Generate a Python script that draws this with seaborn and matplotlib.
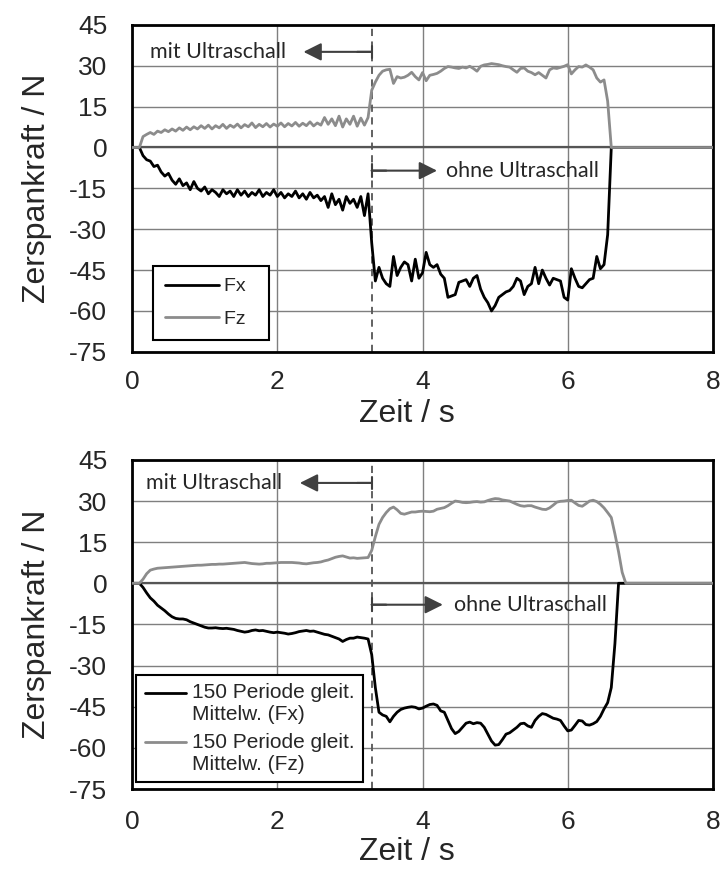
"""
Zerspankraft mit / ohne Ultraschall: Rohsignal und gleitender Mittelwert.
"""

import numpy as np
import pandas as pd
import matplotlib
matplotlib.use("Agg")
import matplotlib.pyplot as plt
from matplotlib.legend_handler import HandlerLine2D
import seaborn as sns

# Abtastzeitpunkte in s (Ablesung alle 0,05 s)
zeit = np.round(np.arange(0, 8.0001, 0.05), 2)

# Rohsignal (oben)
fx_roh = [
    0, 0, 0, -3, -4.5, -5, -7, -6.5, -9, -10.5,
    -9.5, -12, -13.5, -11.5, -14, -13, -15.5, -12.5, -15, -16,
    -14.5, -17, -15.5, -16.5, -18, -15.5, -17, -16, -18, -15.5,
    -17.5, -16, -18, -16.5, -17.5, -15.5, -18, -16.5, -17.5, -15.5,
    -18, -16.5, -18.5, -17, -18, -16, -18.5, -17, -19, -16.5,
    -18.5, -17.5, -19.5, -18, -22, -17, -21, -19, -23, -18,
    -20.5, -19, -22, -18, -25, -17, -35, -49, -44, -48,
    -50, -51, -40, -47, -44, -42, -43, -49, -41, -48,
    -46, -38.5, -43, -44, -43, -46.5, -48, -55, -54.5, -54,
    -49.5, -49, -48.5, -51, -48, -47, -52, -55, -57, -60,
    -58, -55, -54, -53, -52.5, -51, -48, -49, -54, -51,
    -50, -44, -50, -45, -48, -50.5, -48, -48.5, -49, -55,
    -56, -44.5, -48, -51, -51.5, -50, -48.5, -48, -40, -44.5,
    -43, -32, 0,
] + [0.0] * 28

fz_roh = [
    0, 0, 0, 4, 4.8, 5.5, 4.8, 6, 5.5, 6.5,
    5.8, 6.8, 6, 7.2, 6.3, 7.5, 6.5, 7.6, 6.8, 8,
    7, 8.2, 6.8, 8, 7.2, 8.5, 7, 8.2, 7.4, 8.6,
    7.2, 8.4, 7.6, 9, 7.3, 8.5, 7.6, 8.8, 7.5, 8.6,
    7.8, 9, 7.6, 8.8, 7.9, 9.2, 7.8, 8.9, 8, 9.4,
    7.9, 9, 8.2, 11, 8.5, 10.5, 8, 11.5, 7.5, 10.5,
    8.5, 11.5, 7.8, 10.8, 8.2, 11, 21, 24, 26.5, 28,
    28.5, 28.7, 23.5, 26, 25.5, 25.8, 26.5, 27.6, 26, 24.8,
    27.5, 24.5, 26.5, 26.8, 27.2, 28, 29, 29.7, 29.5, 29.2,
    29, 29.5, 29.2, 29.8, 29, 28, 29.8, 30.3, 30.5, 30.8,
    30.6, 30.4, 30, 29.7, 29.5, 28.5, 27.6, 29, 29.2, 28,
    27.5, 26.7, 27.5, 26.5, 25.5, 28.5, 29.2, 29, 29.4, 29.8,
    30.4, 27, 28.5, 29.7, 29.5, 30.3, 29.5, 28.5, 25.5, 24,
    24.8, 17, 0,
] + [0.0] * 28

# 150 Perioden gleitender Mittelwert (unten)
fx_mittel = [
    0, 0, 0, -1.5, -3.5, -5.3, -6.5, -8, -9, -10,
    -11.2, -12.2, -12.8, -13, -13, -13.3, -14, -14.5, -15, -15.5,
    -16, -16.3, -16.3, -16.2, -16.4, -16.5, -16.4, -16.6, -16.8, -17.2,
    -17.5, -17.8, -17.6, -17.2, -17, -17.3, -17.2, -17.5, -17.8, -18,
    -17.8, -18, -18.2, -18.5, -18.3, -18, -17.6, -17.4, -17.2, -17.5,
    -17.4, -17.8, -18.2, -18.6, -18.8, -19.3, -19.8, -20.3, -21.2, -20.5,
    -20, -20, -19.6, -19.8, -20, -20.3, -26, -38, -47, -48,
    -48.5, -50.5, -48.5, -47, -46, -45.5, -45.2, -45, -45.2, -45.8,
    -45.5, -44.8, -44.2, -44, -44.5, -46.5, -47, -50, -53, -54.8,
    -54, -52.5, -51, -50.6, -51.2, -50.8, -51, -52.5, -55, -57.5,
    -59, -58.8, -57, -55, -54.5, -53.5, -52.5, -51.2, -51, -52,
    -52.5, -50, -48.5, -47.5, -47.8, -48.5, -49.2, -49.5, -50, -52,
    -53.8, -53.5, -51.8, -50, -50.2, -51.5, -51.7, -51.2, -50.4, -48.5,
    -45.8, -43.5, -38, -22, 0,
] + [0.0] * 26

fz_mittel = [
    0, 0, 0, 1.5, 3.5, 4.8, 5.2, 5.5, 5.6, 5.7,
    5.8, 5.9, 6, 6.1, 6.2, 6.3, 6.4, 6.5, 6.6, 6.6,
    6.7, 6.8, 6.9, 6.9, 7, 7, 7.1, 7.2, 7.3, 7.4,
    7.5, 7.6, 7.4, 7.2, 7.1, 7.0, 7.1, 7.3, 7.3, 7.4,
    7.5, 7.6, 7.6, 7.6, 7.6, 7.5, 7.4, 7.2, 7.1, 7.3,
    7.5, 7.6, 7.8, 8.2, 8.5, 9, 9.5, 9.8, 10, 9.6,
    9.2, 9.3, 9.1, 9.2, 9.3, 9.4, 12, 17, 21.5, 24,
    25.8, 27.2, 27.8, 26.8, 25.5, 25.2, 25.6, 26, 26, 26.2,
    26.3, 26.2, 26.1, 26.3, 27, 27.3, 27.6, 28.3, 29.2, 30,
    29.8, 29.5, 29.4, 29.5, 29.7, 29.8, 29.6, 29.7, 30.2, 30.6,
    30.9, 30.8, 30.4, 30.2, 30, 29.4, 28.8, 28.3, 28.1, 28.3,
    28.3, 27.8, 27.4, 27, 26.9, 27.5, 28.5, 29.6, 29.9, 30,
    30.2, 30.3, 29.3, 28.4, 28.1, 29, 30, 30.3, 29.8, 28.8,
    27.5, 25.8, 24, 18, 11.5, 4, 0,
] + [0.0] * 24

Y_TICKS = [45, 30, 15, 0, -15, -30, -45, -60, -75]
X_TICKS = [0, 2, 4, 6, 8]
GRENZE = 3.3  # Umschaltzeitpunkt

FARBEN = {"Fx": "black", "Fz": "#8c8c8c"}


class ErsteZeile(HandlerLine2D):
    # Legendenlinie auf Höhe der ersten Textzeile (wie in Excel)
    def create_artists(self, legend, orig_handle, xdescent, ydescent,
                       width, height, fontsize, trans):
        arts = super().create_artists(legend, orig_handle, xdescent, ydescent,
                                      width, height, fontsize, trans)
        for a in arts:
            a.set_ydata(np.asarray(a.get_ydata()) + 0.55 * fontsize)
        return arts


def pfeil(ax, x_ende, y):
    spitze = dict(arrowstyle="-|>,head_length=0.6,head_width=0.3", color="#404040",
                  lw=1.5, mutation_scale=18, shrinkA=0, shrinkB=0)
    ax.annotate("", xy=(x_ende, y), xytext=(GRENZE, y), arrowprops=spitze)
    richtung = np.sign(x_ende - GRENZE)
    balken = dict(arrowstyle="|-|,widthA=0.25,widthB=0", color="#404040",
                  lw=1.5, mutation_scale=18, shrinkA=0, shrinkB=0)
    ax.annotate("", xy=(GRENZE + 0.2 * richtung, y), xytext=(GRENZE, y),
                arrowprops=balken)


def zeichnen(ax, fx, fz, text_pos, tick_pad, label_pad):
    df = pd.DataFrame({"Zeit": zeit, "Fx": fx, "Fz": fz})
    df = df.melt(id_vars="Zeit", var_name="Kanal", value_name="Kraft")
    sns.lineplot(data=df, x="Zeit", y="Kraft", hue="Kanal", palette=FARBEN,
                 estimator=None, sort=False, lw=2, legend=False, ax=ax, zorder=3)

    ax.set_xlim(0, 8)
    ax.set_ylim(-75, 45)
    ax.set_xticks(X_TICKS)
    ax.set_yticks(Y_TICKS)
    ax.grid(True, color="#7f7f7f", lw=1)
    ax.set_axisbelow(True)
    ax.axhline(0, color="#555555", lw=1.6, zorder=2)
    ax.axvline(GRENZE, color="#555555", lw=1.3, ls=(0, (4, 3)), zorder=2)
    for s in ax.spines.values():
        s.set_color("black")
        s.set_linewidth(2)
    ax.tick_params(length=0, labelsize=19)
    ax.tick_params(axis="y", pad=18)
    ax.tick_params(axis="x", pad=tick_pad)
    ax.set_xlabel("Zeit / s", fontsize=23, labelpad=label_pad)
    ax.xaxis.label.set_x(0.473)
    ax.set_ylabel("Zerspankraft / N", fontsize=23, labelpad=12)

    (mx, my, mtx), (ox, oy, otx) = text_pos
    pfeil(ax, mx, my)
    ax.text(mtx, my, "mit Ultraschall", fontsize=15.5, family=["Lato", "DejaVu Sans"],
            va="center", ha="left")
    pfeil(ax, ox, oy)
    ax.text(otx, oy, "ohne Ultraschall", fontsize=15.5, family=["Lato", "DejaVu Sans"],
            va="center", ha="left")
    return ax.get_lines()[:2]


sns.set_theme(style="white")
plt.rcParams["font.family"] = ["Liberation Sans", "DejaVu Sans"]
plt.rcParams["axes.unicode_minus"] = False

fig = plt.figure(figsize=(7.26, 8.73), dpi=100)
ax1 = fig.add_axes([0.182, 0.597, 0.8, 0.3745])
ax2 = fig.add_axes([0.182, 0.0962, 0.8, 0.377])

linien1 = zeichnen(ax1, fx_roh, fz_roh, [(2.36, 35.1, 0.24), (4.2, -8.5, 4.33)], 13, 4)
leg1 = ax1.legend(linien1, ["Fx  ", "Fz  "], loc="lower left",
                  bbox_to_anchor=(0.036, 0.037), fontsize=14, frameon=True,
                  fancybox=False, edgecolor="black", framealpha=1,
                  handlelength=2.75, handletextpad=0.3, labelspacing=0.75,
                  borderpad=0.62, borderaxespad=0)
leg1.get_frame().set_linewidth(1.5)

linien2 = zeichnen(ax2, fx_mittel, fz_mittel, [(2.31, 36.6, 0.19), (4.28, -7.8, 4.43)],
                   15, 2)
leg2 = ax2.legend(linien2, ["150 Periode gleit.\nMittelw. (Fx)",
                            "150 Periode gleit.\nMittelw. (Fz)"],
                  loc="lower left", bbox_to_anchor=(0.007, 0.021), fontsize=15,
                  frameon=True, fancybox=False, edgecolor="black", framealpha=1,
                  handlelength=2.0, handletextpad=0.3, labelspacing=0.4,
                  borderpad=0.4, borderaxespad=0,
                  handler_map={linien2[0]: ErsteZeile(), linien2[1]: ErsteZeile()})
leg2.get_frame().set_linewidth(1.5)

fig.savefig("out.png", dpi=100)
